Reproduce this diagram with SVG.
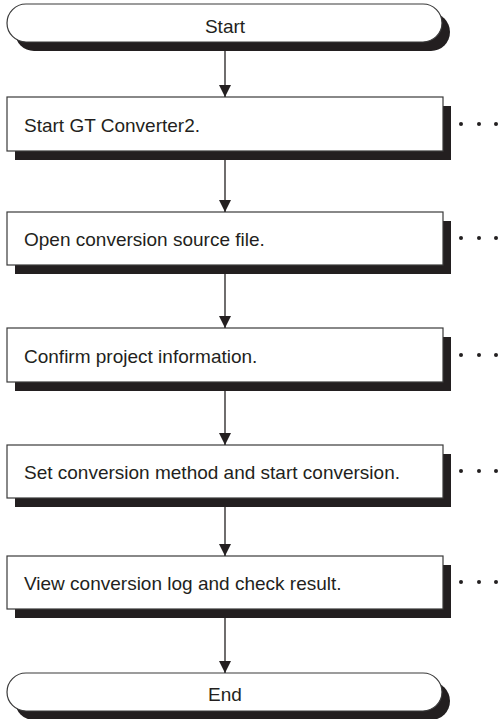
<svg xmlns="http://www.w3.org/2000/svg" width="500" height="719" viewBox="0 0 500 719">
<defs>
<style>
.sh{fill:#231f20}
.bx{fill:#fff;stroke:#3a3a3a;stroke-width:1.2}
.t{font-family:"Liberation Sans",Arial,sans-serif;font-size:19px;fill:#231f20}
.c{stroke:#231f20;stroke-width:1.3;fill:none}
.d{fill:#231f20}
</style>
<marker id="ah" markerUnits="userSpaceOnUse" markerWidth="12" markerHeight="12" refX="12" refY="6" orient="auto" viewBox="0 0 12 12">
<path d="M0,0 L12,6 L0,12 Z" fill="#231f20"/>
</marker>
</defs>
<g id="start">
<rect class="sh" x="15" y="13" width="435" height="38" rx="19"/>
<rect class="bx" x="7" y="4" width="435" height="38" rx="19"/>
<text class="t" x="225" y="33" text-anchor="middle">Start</text>
</g>
<g id="step1">
<rect class="sh" x="15" y="106" width="436" height="54"/>
<rect class="bx" x="7" y="97" width="436" height="54"/>
<text class="t" x="24" y="132">Start GT Converter2.</text>
<circle class="d" cx="461" cy="124" r="2"/><circle class="d" cx="479" cy="124" r="2"/><circle class="d" cx="496" cy="124" r="2"/>
</g>
<g id="step2">
<rect class="sh" x="15" y="221" width="436" height="53"/>
<rect class="bx" x="7" y="212" width="436" height="53"/>
<text class="t" x="24" y="246">Open conversion source file.</text>
<circle class="d" cx="461" cy="238" r="2"/><circle class="d" cx="479" cy="238" r="2"/><circle class="d" cx="496" cy="238" r="2"/>
</g>
<g id="step3">
<rect class="sh" x="15" y="337" width="436" height="54"/>
<rect class="bx" x="7" y="328" width="436" height="54"/>
<text class="t" x="24" y="363">Confirm project information.</text>
<circle class="d" cx="461" cy="355" r="2"/><circle class="d" cx="479" cy="355" r="2"/><circle class="d" cx="496" cy="355" r="2"/>
</g>
<g id="step4">
<rect class="sh" x="15" y="454" width="436" height="53"/>
<rect class="bx" x="7" y="445" width="436" height="53"/>
<text class="t" x="24" y="479">Set conversion method and start conversion.</text>
<circle class="d" cx="461" cy="471" r="2"/><circle class="d" cx="479" cy="471" r="2"/><circle class="d" cx="496" cy="471" r="2"/>
</g>
<g id="step5">
<rect class="sh" x="15" y="565" width="436" height="53"/>
<rect class="bx" x="7" y="556" width="436" height="53"/>
<text class="t" x="24" y="590">View conversion log and check result.</text>
<circle class="d" cx="461" cy="582" r="2"/><circle class="d" cx="479" cy="582" r="2"/><circle class="d" cx="496" cy="582" r="2"/>
</g>
<g id="end">
<rect class="sh" x="15" y="682" width="435" height="38" rx="19"/>
<rect class="bx" x="7" y="673" width="435" height="38" rx="19"/>
<text class="t" x="225" y="701" text-anchor="middle">End</text>
</g>
<g id="connectors">
<line class="c" x1="225" y1="51" x2="225" y2="97" marker-end="url(#ah)"/>
<line class="c" x1="225" y1="160" x2="225" y2="212" marker-end="url(#ah)"/>
<line class="c" x1="225" y1="274" x2="225" y2="328" marker-end="url(#ah)"/>
<line class="c" x1="225" y1="391" x2="225" y2="445" marker-end="url(#ah)"/>
<line class="c" x1="225" y1="507" x2="225" y2="556" marker-end="url(#ah)"/>
<line class="c" x1="225" y1="618" x2="225" y2="673" marker-end="url(#ah)"/>
</g>
</svg>
